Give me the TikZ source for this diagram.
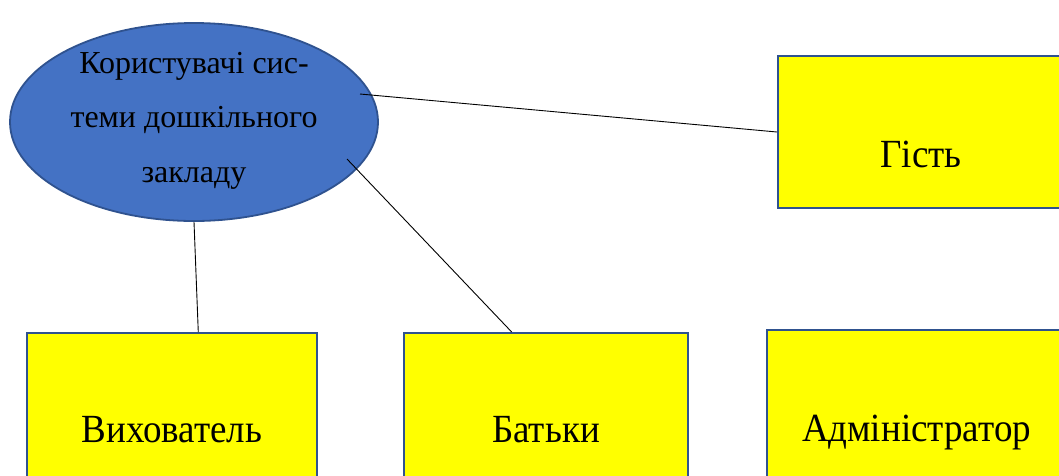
\documentclass[tikz,border=0pt]{standalone}
\usepackage{fontspec}
\setmainfont{Liberation Serif}
\usetikzlibrary{shapes.geometric,calc}
\definecolor{ellfill}{HTML}{4472C4}
\definecolor{edgeblue}{HTML}{2F528F}
\definecolor{boxfill}{HTML}{FFFF00}
\newcommand{\tallword}[1]{\scalebox{1}[1.08]{#1}}
\begin{document}
\begin{tikzpicture}[x=1pt,y=-1pt,
  ell/.style={ellipse, draw=edgeblue, line width=1.8pt, fill=ellfill,
    minimum width=368pt, minimum height=198pt, inner sep=0pt},
  rolebox/.style={rectangle, draw=edgeblue, line width=2pt, fill=boxfill, inner sep=0pt},
  lbl/.style={font=\fontsize{37}{40}\selectfont, anchor=base, inner sep=0pt},
  conn/.style={draw=black, line width=0.9pt}]
\clip (0,0) rectangle (1059,475);
\useasboundingbox (0,0) rectangle (1059,475);
\fill[white] (0,0) rectangle (1059,475);

% ellipse
\node[ell] (users) at (194,122) {};
\node[font=\fontsize{32}{54.5}\selectfont, align=center, anchor=base, inner sep=0pt] (userstxt) at (194,182)
  {Користувачі сис-\\теми дошкільного\\закладу};

% boxes
\node[rolebox, minimum width=286pt, minimum height=152pt] (guest) at (921,132) {};
\node[rolebox, minimum width=290pt, minimum height=200pt] (teacher) at (172,433) {};
\node[rolebox, minimum width=284pt, minimum height=200pt] (parents) at (546,433) {};
\node[rolebox, minimum width=299pt, minimum height=204pt] (admin) at (916.5,432) {};

% labels
\node[lbl] (guesttxt) at (921,167) {\tallword{Гість}};
\node[lbl] (teachertxt) at (172,442) {\tallword{Вихователь}};
\node[lbl] (parentstxt) at (546,442) {\tallword{Батьки}};
\node[lbl] (admintxt) at (916.5,441) {\tallword{Адміністратор}};

% connectors
\coordinate (u1) at (360,94);
\coordinate (u2) at (347,159);
\draw[conn] (u1) -- (guest.west);
\draw[conn] (u2) -- ($(parents.north west)!0.38!(parents.north east)$);
\draw[conn] (users.south) -- ($(teacher.north west)!0.59!(teacher.north east)$);
\end{tikzpicture}
\end{document}
